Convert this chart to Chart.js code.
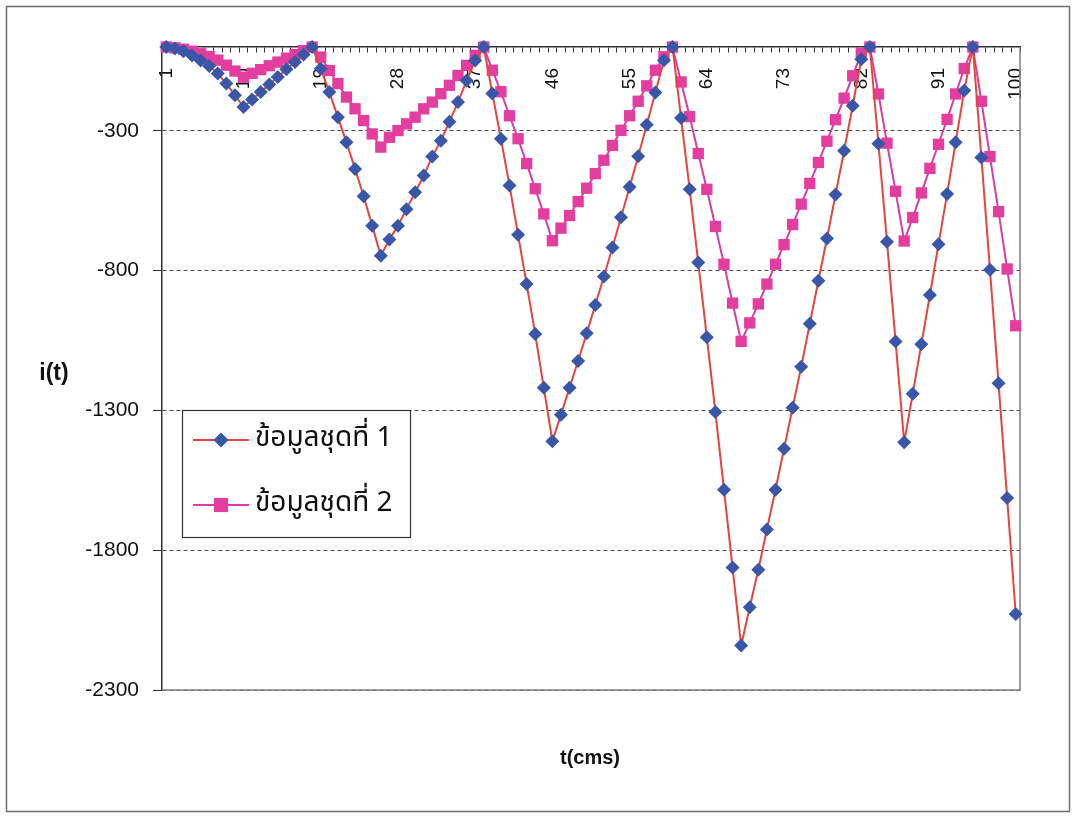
<!DOCTYPE html>
<html>
<head>
<meta charset="utf-8">
<script src="https://cdn.jsdelivr.net/npm/chart.js@4.4.1/dist/chart.umd.min.js"></script>
<style>
  html, body { margin: 0; padding: 0; background: #ffffff; }
  canvas { display: block; }
</style>
</head>
<body>
<canvas id="chart" width="1077" height="816"></canvas>
<script>
// Sample index (category axis)
const categories = [
  1, 2, 3, 4, 5, 6, 7, 8, 9, 10, 11, 12, 13, 14, 15, 16, 17, 18, 19, 20,
  21, 22, 23, 24, 25, 26, 27, 28, 29, 30, 31, 32, 33, 34, 35, 36, 37, 38, 39, 40,
  41, 42, 43, 44, 45, 46, 47, 48, 49, 50, 51, 52, 53, 54, 55, 56, 57, 58, 59, 60,
  61, 62, 63, 64, 65, 66, 67, 68, 69, 70, 71, 72, 73, 74, 75, 76, 77, 78, 79, 80,
  81, 82, 83, 84, 85, 86, 87, 88, 89, 90, 91, 92, 93, 94, 95, 96, 97, 98, 99, 100
];

// Categories that carry a printed label on the time axis
const xTickLabels = [1, 10, 19, 28, 37, 46, 55, 64, 73, 82, 91, 100];

// Current axis ticks
const yTicks = [-2300, -1800, -1300, -800, -300];

const seriesNames = ['ข้อมูลชุดที่ 1', 'ข้อมูลชุดที่ 2'];

// i(t), data set 1
const series1 = [
  0, -5, -15, -30, -48, -68, -95, -131, -173, -215,
  -188, -161, -134, -107, -80, -54, -27, 0, -78, -161,
  -251, -341, -436, -534, -639, -747, -689, -639, -580, -520,
  -460, -392, -335, -267, -197, -120, -48, 0, -166, -328,
  -495, -672, -848, -1027, -1219, -1410, -1315, -1219, -1123, -1024,
  -923, -821, -717, -609, -501, -391, -278, -163, -47, 0,
  -254, -509, -771, -1038, -1306, -1584, -1862, -2141, -2004, -1870,
  -1726, -1584, -1437, -1290, -1144, -990, -836, -685, -528, -371,
  -210, -44, 0, -346, -697, -1053, -1414, -1240, -1063, -887,
  -706, -526, -341, -156, 0, -395, -797, -1203, -1613, -2028
];

// i(t), data set 2
const series2 = [
  0, -3, -8, -15, -24, -34, -47, -65, -86, -108,
  -94, -81, -67, -54, -40, -27, -13, 0, -36, -84,
  -131, -179, -221, -263, -311, -358, -323, -299, -275, -251,
  -221, -197, -167, -137, -102, -66, -30, 0, -83, -160,
  -246, -328, -417, -507, -597, -693, -648, -603, -553, -505,
  -453, -405, -352, -298, -246, -194, -139, -83, -35, 0,
  -125, -249, -381, -509, -642, -777, -916, -1053, -987, -919,
  -848, -777, -707, -635, -562, -488, -413, -337, -260, -183,
  -103, -22, 0, -168, -344, -516, -694, -610, -522, -434,
  -348, -259, -168, -77, 0, -194, -392, -589, -794, -997
];

const FONT = "'Liberation Sans', Arial, sans-serif";
const THAI_FONT = "'Noto Sans Thai', 'Liberation Sans', Arial, sans-serif";

const COLORS = {
  line1: '#e8433d',
  marker1: '#3a56a6',
  line2: '#d93ca4',
  marker2: '#e33d9f',
  grid: '#4a4a4a',
  axis: '#333333',
  frame: '#808080',
  text: '#111111'
};

function drawMarker(ctx, style, x, y, r, color) {
  ctx.save();
  ctx.fillStyle = color;
  ctx.beginPath();
  if (style === 'rectRot') {
    ctx.moveTo(x, y - r);
    ctx.lineTo(x + r, y);
    ctx.lineTo(x, y + r);
    ctx.lineTo(x - r, y);
    ctx.closePath();
  } else {
    const h = r * Math.SQRT1_2;
    ctx.rect(x - h, y - h, 2 * h, 2 * h);
  }
  ctx.fill();
  ctx.restore();
}

// Plot frame, axis titles, boxed legend and outer border
const decorations = {
  id: 'decorations',
  beforeDraw(chart) {
    const { ctx, width, height } = chart;
    ctx.save();
    ctx.fillStyle = '#ffffff';
    ctx.fillRect(0, 0, width, height);
    ctx.restore();
  },
  beforeDatasetsDraw(chart) {
    const { ctx, chartArea: a } = chart;
    ctx.save();
    ctx.strokeStyle = COLORS.frame;
    ctx.lineWidth = 1.5;
    ctx.beginPath();
    ctx.moveTo(a.right, a.top);
    ctx.lineTo(a.right, a.bottom);
    ctx.lineTo(a.left, a.bottom);
    ctx.stroke();
    ctx.restore();
  },
  afterDraw(chart) {
    const { ctx } = chart;
    ctx.save();

    // axis titles
    ctx.fillStyle = COLORS.text;
    ctx.textAlign = 'center';
    ctx.textBaseline = 'middle';
    ctx.font = 'bold 23px ' + FONT;
    ctx.fillText('i(t)', 54, 374);
    ctx.font = 'bold 20px ' + FONT;
    ctx.fillText('t(cms)', 590, 758);

    // legend box
    const lx = 182, ly = 410, lw = 228, lh = 127;
    ctx.fillStyle = '#ffffff';
    ctx.fillRect(lx, ly, lw, lh);
    ctx.strokeStyle = '#333333';
    ctx.lineWidth = 1.2;
    ctx.strokeRect(lx + 0.5, ly + 0.5, lw, lh);

    const rowsY = [440, 505];
    chart.data.datasets.forEach((ds, i) => {
      const y = rowsY[i];
      ctx.strokeStyle = ds.borderColor;
      ctx.lineWidth = 2;
      ctx.beginPath();
      ctx.moveTo(193, y);
      ctx.lineTo(249, y);
      ctx.stroke();
      drawMarker(ctx, ds.pointStyle, 221, y, ds.pointStyle === 'rectRot' ? 7.5 : 10, ds.pointBackgroundColor);
      ctx.fillStyle = COLORS.text;
      ctx.textAlign = 'left';
      ctx.textBaseline = 'middle';
      ctx.font = '28px ' + THAI_FONT;
      ctx.fillText(ds.label, 255, y);
    });

    // outer border
    ctx.strokeStyle = '#6e6e6e';
    ctx.lineWidth = 1.5;
    ctx.strokeRect(6.5, 6.5, 1063, 805);
    ctx.restore();
  }
};

new Chart(document.getElementById('chart'), {
  type: 'line',
  data: {
    labels: categories,
    datasets: [
      {
        label: seriesNames[0],
        data: series1,
        borderColor: COLORS.line1,
        borderWidth: 2,
        pointStyle: 'rectRot',
        pointRadius: 7,
        pointBackgroundColor: COLORS.marker1,
        pointBorderColor: COLORS.marker1,
        pointBorderWidth: 0,
        tension: 0,
        clip: false
      },
      {
        label: seriesNames[1],
        data: series2,
        borderColor: COLORS.line2,
        borderWidth: 2,
        pointStyle: 'rect',
        pointRadius: 8,
        pointBackgroundColor: COLORS.marker2,
        pointBorderColor: COLORS.marker2,
        pointBorderWidth: 0,
        tension: 0,
        clip: false
      }
    ]
  },
  options: {
    responsive: false,
    devicePixelRatio: 1,
    animation: false,
    layout: { padding: { top: 47, right: 57, bottom: 126, left: 0 } },
    plugins: {
      legend: { display: false },
      tooltip: { enabled: false }
    },
    scales: {
      x: {
        type: 'category',
        position: { y: 0 },
        offset: true,
        grid: {
          offset: true,
          drawOnChartArea: false,
          drawTicks: true,
          tickLength: 5,
          tickColor: COLORS.axis,
          tickWidth: 1
        },
        border: { display: true, color: COLORS.axis, width: 1.5 },
        ticks: {
          autoSkip: false,
          minRotation: 90,
          maxRotation: 90,
          padding: 16,
          color: COLORS.text,
          font: { family: FONT, size: 19 },
          callback(value) {
            const c = Number(this.getLabelForValue(value));
            return xTickLabels.includes(c) ? String(c) : '';
          }
        }
      },
      y: {
        min: -2300,
        max: 0,
        afterBuildTicks(scale) {
          scale.ticks = yTicks.map(v => ({ value: v }));
        },
        afterFit(scale) {
          scale.width = 162;
        },
        grid: {
          color: COLORS.grid,
          lineWidth: 1,
          drawTicks: true,
          tickLength: 9,
          tickColor: COLORS.axis,
          tickWidth: 1
        },
        border: { display: true, color: COLORS.axis, width: 1.5, dash: [4, 3] },
        ticks: {
          color: COLORS.text,
          padding: 14,
          font: { family: FONT, size: 21 },
          callback(value) {
            return String(value);
          }
        }
      }
    }
  },
  plugins: [decorations]
});
</script>
</body>
</html>
